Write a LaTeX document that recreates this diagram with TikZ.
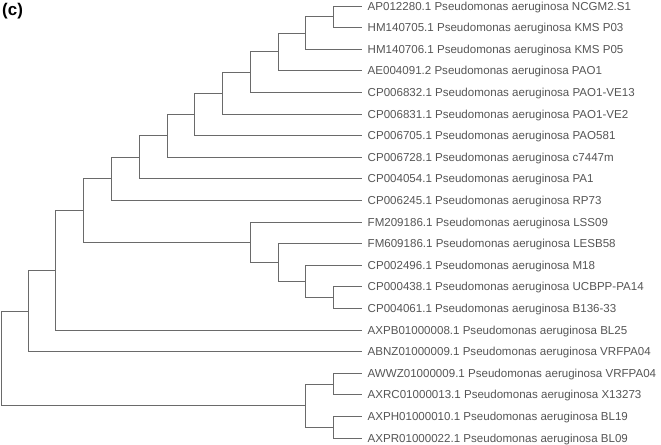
\documentclass[tikz,border=0pt]{standalone}
\usepackage{fontspec}
\setmainfont{Liberation Sans}
\definecolor{branch}{HTML}{6A6A6A}
\definecolor{label}{HTML}{555555}
\begin{document}
\begin{tikzpicture}[x=1bp,y=-1bp]
        \useasboundingbox (0,0) rectangle (661,445);

        \node[anchor=north west, inner sep=0, font=\fontsize{17}{17}\selectfont\bfseries] (panel) at (2,3) {(c)};

        \begin{scope}[every node/.style={anchor=west, inner xsep=5.5bp, inner ysep=0, text height=8.3bp, text depth=0pt, text=label, font=\fontsize{11.6}{14}\selectfont}]
          \node (1)  at (362,6)     {AP012280.1 Pseudomonas aeruginosa NCGM2.S1};
          \node (2)  at (362,27.6)  {HM140705.1 Pseudomonas aeruginosa KMS P03};
          \node (3)  at (362,49.2)  {HM140706.1 Pseudomonas aeruginosa KMS P05};
          \node (4)  at (362,70.8)  {AE004091.2 Pseudomonas aeruginosa PAO1};
          \node (5)  at (362,92.4)  {CP006832.1 Pseudomonas aeruginosa PAO1-VE13};
          \node (6)  at (362,114)   {CP006831.1 Pseudomonas aeruginosa PAO1-VE2};
          \node (7)  at (362,135.6) {CP006705.1 Pseudomonas aeruginosa PAO581};
          \node (8)  at (362,157.2) {CP006728.1 Pseudomonas aeruginosa c7447m};
          \node (9)  at (362,178.8) {CP004054.1 Pseudomonas aeruginosa PA1};
          \node (10) at (362,200.4) {CP006245.1 Pseudomonas aeruginosa RP73};
          \node (11) at (362,222)   {FM209186.1 Pseudomonas aeruginosa LSS09};
          \node (12) at (362,243.6) {FM609186.1 Pseudomonas aeruginosa LESB58};
          \node (13) at (362,265.2) {CP002496.1 Pseudomonas aeruginosa M18};
          \node (14) at (362,286.8) {CP000438.1 Pseudomonas aeruginosa UCBPP-PA14};
          \node (15) at (362,308.4) {CP004061.1 Pseudomonas aeruginosa B136-33};
          \node (16) at (362,330)   {AXPB01000008.1 Pseudomonas aeruginosa BL25};
          \node (17) at (362,351.6) {ABNZ01000009.1 Pseudomonas aeruginosa VRFPA04};
          \node (18) at (362,373.2) {AWWZ01000009.1 Pseudomonas aeruginosa VRFPA04};
          \node (19) at (362,394.8) {AXRC01000013.1 Pseudomonas aeruginosa X13273};
          \node (20) at (362,416.4) {AXPH01000010.1 Pseudomonas aeruginosa BL19};
          \node (21) at (362,438)   {AXPR01000022.1 Pseudomonas aeruginosa BL09};
        \end{scope}

        % internal nodes
        \coordinate (a1)  at (333,16.8);
        \coordinate (a2)  at (305,33);
        \coordinate (a3)  at (278,51.9);
        \coordinate (a4)  at (250,72.2);
        \coordinate (a5)  at (222,93.1);
        \coordinate (a6)  at (194,114.3);
        \coordinate (a7)  at (167,135.8);
        \coordinate (a8)  at (139,157.3);
        \coordinate (a9)  at (111,178.8);
        \coordinate (b1)  at (333,297.6);
        \coordinate (b2)  at (305,281.4);
        \coordinate (b3)  at (278,262.5);
        \coordinate (b4)  at (250,242.3);
        \coordinate (c1)  at (83,210.5);
        \coordinate (c2)  at (55,270.3);
        \coordinate (c3)  at (28,310.9);
        \coordinate (d1)  at (333,384);
        \coordinate (d2)  at (333,427.2);
        \coordinate (d3)  at (305,405.6);
        \coordinate (root) at (1,358.3);

        \begin{scope}[color=branch, line width=.8bp]
          \draw (a1) |- (1.west);  \draw (a1) |- (2.west);
          \draw (a2) |- (a1);      \draw (a2) |- (3.west);
          \draw (a3) |- (a2);      \draw (a3) |- (4.west);
          \draw (a4) |- (a3);      \draw (a4) |- (5.west);
          \draw (a5) |- (a4);      \draw (a5) |- (6.west);
          \draw (a6) |- (a5);      \draw (a6) |- (7.west);
          \draw (a7) |- (a6);      \draw (a7) |- (8.west);
          \draw (a8) |- (a7);      \draw (a8) |- (9.west);
          \draw (a9) |- (a8);      \draw (a9) |- (10.west);
          \draw (b1) |- (14.west); \draw (b1) |- (15.west);
          \draw (b2) |- (13.west); \draw (b2) |- (b1);
          \draw (b3) |- (12.west); \draw (b3) |- (b2);
          \draw (b4) |- (11.west); \draw (b4) |- (b3);
          \draw (c1) |- (a9);      \draw (c1) |- (b4);
          \draw (c2) |- (c1);      \draw (c2) |- (16.west);
          \draw (c3) |- (c2);      \draw (c3) |- (17.west);
          \draw (d1) |- (18.west); \draw (d1) |- (19.west);
          \draw (d2) |- (20.west); \draw (d2) |- (21.west);
          \draw (d3) |- (d1);      \draw (d3) |- (d2);
          \draw (root) |- (c3);    \draw (root) |- (d3);
        \end{scope}

      \end{tikzpicture}
\end{document}
